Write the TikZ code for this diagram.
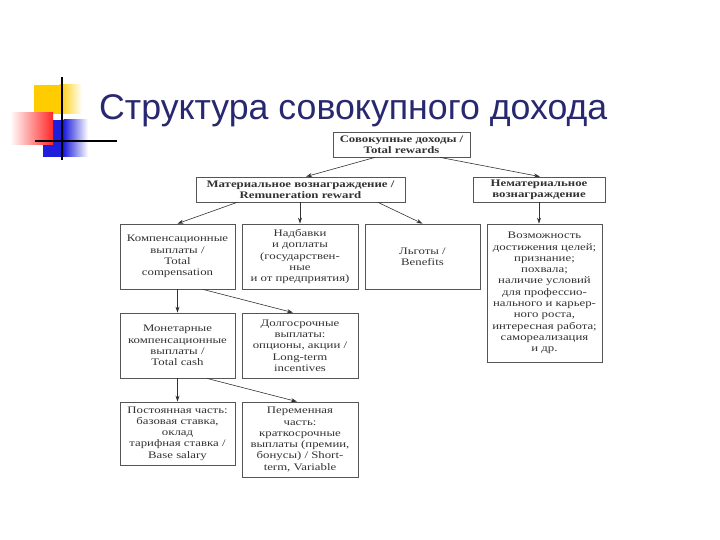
\documentclass[tikz,border=0pt]{standalone}
\usepackage{fontspec}
\setmainfont{Liberation Serif}
\newfontfamily\titlefont{Liberation Sans}
\newfontfamily\boxfont[FakeStretch=1.28]{Liberation Serif}
\usetikzlibrary{arrows.meta,calc}
\definecolor{titleblue}{RGB}{40,40,112}
\definecolor{ink}{RGB}{50,50,50}
\definecolor{edge}{RGB}{85,85,85}
\definecolor{decoyellow}{RGB}{255,204,0}
\definecolor{decored}{RGB}{255,40,40}
\definecolor{decoblue}{RGB}{30,30,220}
\tikzset{
  box/.style={draw=edge, line width=0.8pt, rectangle, inner sep=1pt, align=center,
    text=ink, font=\boxfont\fontsize{10}{11.3}\selectfont},
  boldbox/.style={box, font=\boxfont\bfseries\fontsize{10}{11.3}\selectfont},
  conn/.style={draw=ink, line width=0.6pt, -{Stealth[length=6pt,width=4pt]}}
}
\begin{document}
\begin{tikzpicture}[x=1pt,y=-1pt]
\useasboundingbox (0,0) rectangle (720,540);
% decoration
\fill[decoyellow] (34,85) rectangle (60,114);
\shade[left color=decoyellow, right color=white] (59.5,85) rectangle (82,114);
\fill[decoblue] (43,120) rectangle (64,157);
\shade[left color=decoblue, right color=white] (63.5,120) rectangle (88,157);
\shade[left color=white, right color=decored] (10,113) rectangle (53,145);
\draw[black, line width=2pt] (61.5,77) -- (61.5,160);
\draw[black, line width=2pt] (35,141) -- (117,141);
% title
\node[anchor=base west, inner sep=0pt, text=titleblue, font=\titlefont\fontsize{35.7}{40}\selectfont] (title) at (99,120) {Структура совокупного дохода};
% boxes
\node[boldbox, minimum width=137pt, minimum height=25pt] (top) at (401.5,144.5) {Совокупные доходы /\\Total rewards};
\node[boldbox, minimum width=209pt, minimum height=25pt] (mat) at (300.5,189.5) {Материальное вознаграждение /\\Remuneration reward};
\node[boldbox, minimum width=132pt, minimum height=25pt] (nemat) at (539,189.5) {Нематериальное\\вознаграждение};
\node[box, minimum width=115pt, minimum height=65pt] (komp) at (177.5,256.5) {Компенсационные\\выплаты /\\Total\\compensation};
\node[box, minimum width=116pt, minimum height=65pt] (nadb) at (300,256.5) {Надбавки\\и доплаты\\(государствен-\\ные\\и от предприятия)};
\node[box, minimum width=115pt, minimum height=65pt] (lgot) at (422.5,256.5) {Льготы /\\Benefits};
\node[box, minimum width=115pt, minimum height=138pt] (voz) at (544.5,293) {Возможность\\достижения целей;\\признание;\\похвала;\\наличие условий\\для профессио-\\нального и карьер-\\ного роста,\\интересная работа;\\самореализация\\и др.};
\node[box, minimum width=115pt, minimum height=65pt] (mon) at (177.5,345.5) {Монетарные\\компенсационные\\выплаты /\\Total cash};
\node[box, minimum width=116pt, minimum height=65pt] (dolg) at (300,345.5) {Долгосрочные\\выплаты:\\опционы, акции /\\Long-term\\incentives};
\node[box, minimum width=115pt, minimum height=63pt] (post) at (177.5,433.5) {Постоянная часть:\\базовая ставка,\\оклад\\тарифная ставка /\\Base salary};
\node[box, minimum width=116pt, minimum height=75pt] (perem) at (300,439.5) {Переменная\\часть:\\краткосрочные\\выплаты (премии,\\бонусы) / Short-\\term, Variable};
% connectors
\draw[conn] ([xshift=-26.5pt]top.south) -- ([xshift=5.5pt]mat.north);
\draw[conn] ([xshift=38.5pt]top.south) -- ([xshift=1pt]nemat.north);
\draw[conn] ([xshift=-63.5pt]mat.south) -- (komp.north);
\draw[conn] ([xshift=-0.5pt]mat.south) -- (nadb.north);
\draw[conn] ([xshift=77.5pt]mat.south) -- (lgot.north);
\draw[conn] (nemat.south) -- ([xshift=-5.5pt]voz.north);
\draw[conn] (komp.south) -- (mon.north);
\draw[conn] ([xshift=25.5pt]komp.south) -- ([xshift=-7pt]dolg.north);
\draw[conn] (mon.south) -- (post.north);
\draw[conn] ([xshift=29.5pt]mon.south) -- ([xshift=-3pt]perem.north);
\end{tikzpicture}
\end{document}
